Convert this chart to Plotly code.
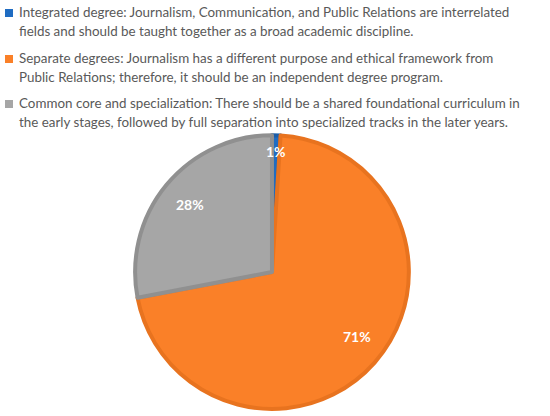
import math
import plotly.graph_objects as go

labels = [
    "Integrated degree: Journalism, Communication, and Public Relations are interrelated<br>fields and should be taught together as a broad academic discipline.",
    "Separate degrees: Journalism has a different purpose and ethical framework from<br>Public Relations; therefore, it should be an independent degree program.",
    "Common core and specialization: There should be a shared foundational curriculum in<br>the early stages, followed by full separation into specialized tracks in the later years.",
]
shares = [1, 71, 28]
fill_colors = ["#1F6CC2", "#FA8028", "#A6A6A6"]
edge_colors = ["#1A5DA8", "#E8731F", "#909090"]

W, H = 550, 416
pie_x = [0.245, 0.744]
pie_y = [0.017, 0.675]
label_radius = [0.88, 0.83, 0.78]  # fraction of pie radius where the % labels sit

fig = go.Figure()
fig.add_trace(go.Pie(
    labels=labels,
    values=shares,
    sort=False,
    direction="clockwise",
    rotation=0,
    marker=dict(colors=fill_colors, line=dict(color=edge_colors, width=4)),
    textinfo="none",
    domain=dict(x=pie_x, y=pie_y),
    hoverinfo="label+percent",
    showlegend=False,
))

# percent labels placed like Excel's "best fit", along each slice's bisector
cx = (pie_x[0] + pie_x[1]) / 2 * W
cy = (pie_y[0] + pie_y[1]) / 2 * H
R = min((pie_x[1] - pie_x[0]) * W, (pie_y[1] - pie_y[0]) * H) / 2
total = sum(shares)
start = 0
for v, rf in zip(shares, label_radius):
    mid = (start + v / 2) / total * 2 * math.pi
    start += v
    fig.add_annotation(
        x=(cx + rf * R * math.sin(mid)) / W,
        y=(cy + rf * R * math.cos(mid)) / H,
        xref="paper", yref="paper", showarrow=False,
        text=f"{round(v / total * 100)}%",
        font=dict(family="Lato", size=14, color="white", weight="bold"),
    )

# Excel-style legend on top: small square + two wrapped lines per entry
entry_top = [12, 58, 103]   # px from top, centre of first line
line_gap = 19
for lab, col, y0 in zip(labels, fill_colors, entry_top):
    fig.add_shape(
        type="rect", xref="paper", yref="paper",
        x0=5 / W, x1=13 / W, y0=1 - (y0 - 3) / H, y1=1 - (y0 + 5) / H,
        fillcolor=col, line_width=0,
    )
    for i, line in enumerate(lab.split("<br>")):
        fig.add_annotation(
            x=17 / W, y=1 - (y0 + i * line_gap) / H,
            xref="paper", yref="paper", xanchor="left", yanchor="middle",
            showarrow=False, text=line, align="left",
            font=dict(family="Lato", size=13.4, color="#595959"),
        )

fig.update_layout(
    width=W, height=H,
    margin=dict(l=0, r=0, t=0, b=0, autoexpand=False),
    paper_bgcolor="white",
)

fig.write_html(
    "out.html",
    config={"displayModeBar": False},
    post_script="document.body.style.margin = '0';",
)
